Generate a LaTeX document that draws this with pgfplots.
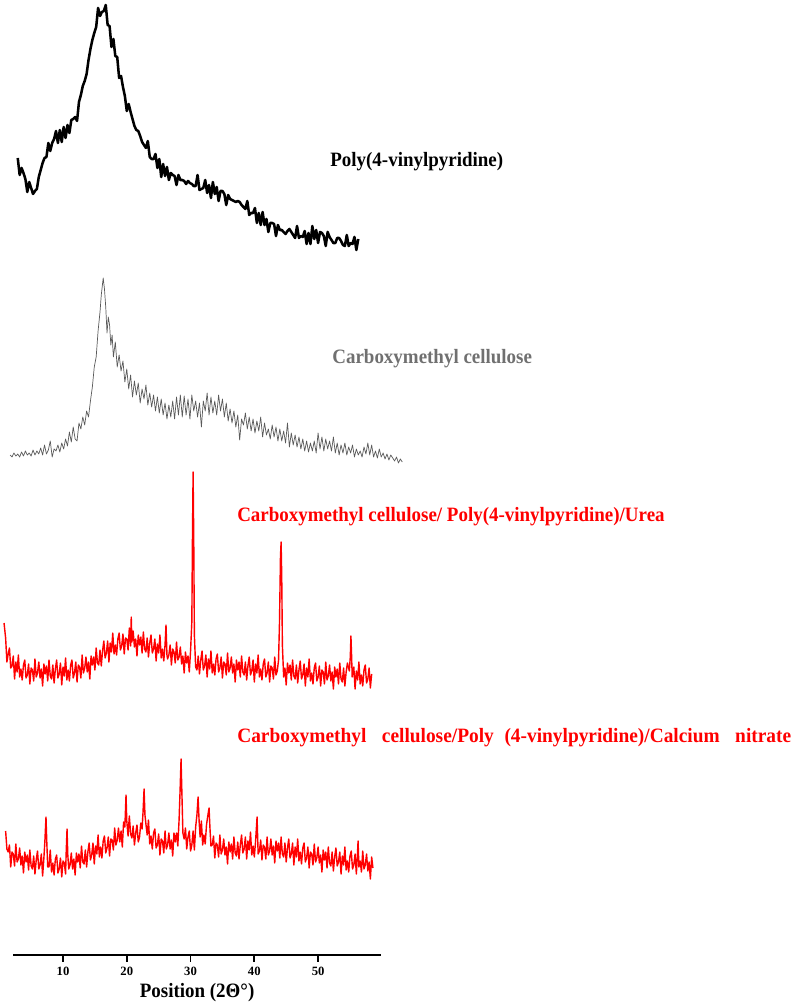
\documentclass[border=0pt]{standalone}
\usepackage{pgfplots}
\pgfplotsset{compat=1.18}
\usepackage{fontspec}
\setmainfont{Liberation Serif}
\definecolor{cmcgray}{RGB}{90,90,90}
\definecolor{lblgray}{RGB}{112,112,112}
\definecolor{xrdred}{RGB}{255,0,0}
\begin{document}
\begin{tikzpicture}
\begin{axis}[
  x=0.159375cm, y=0.025cm,
  xmin=2.16, xmax=59.9, ymin=52, ymax=1007,
  axis x line=bottom, axis y line=none,
  x axis line style={-, line width=1.5pt},
  xtick={10,20,30,40,50},
  tick align=outside,
  major tick length=0.17cm,
  xtick style={line width=1.2pt, black},
  ticklabel style={font=\fontsize{9}{10}\selectfont\bfseries},
  /pgf/number format/assume math mode=true,
  clip=false,
]
% bounding box of the whole figure
\path (axis cs:0.1176,0) rectangle (axis cs:125.137,1007);

% Poly(4-vinylpyridine)
\addplot[black, line width=1.8pt, line join=round] coordinates {
(2.9,849) (3.2,832) (3.5,839) (3.8,834) (4.1,828) (4.4,815) (4.7,825) (5.0,819) (5.3,813) (5.6,816)
(5.9,818) (6.2,830) (6.5,837) (6.8,844) (7.1,849) (7.4,850) (7.7,864) (8.0,856) (8.3,864) (8.6,868)
(8.9,876) (9.2,864) (9.5,877) (9.8,865) (10.1,880) (10.4,869) (10.7,882) (11.0,874) (11.3,887) (11.6,888)
(11.9,890) (12.2,886) (12.5,905) (12.8,912) (13.1,921) (13.4,926) (13.7,933) (14.0,947) (14.3,958) (14.6,967)
(14.9,974) (15.2,980) (15.5,999) (15.8,991) (16.1,995) (16.4,996) (16.7,1002) (17.0,982) (17.3,981) (17.6,960)
(17.9,968) (18.2,951) (18.5,950) (18.8,929) (19.1,931) (19.4,920) (19.7,911) (20.0,896) (20.3,903) (20.6,895)
(20.9,888) (21.2,881) (21.5,877) (21.8,876) (22.1,871) (22.4,865) (22.7,862) (23.0,859) (23.3,866) (23.6,850)
(23.9,848) (24.2,848) (24.5,853) (24.8,839) (25.1,848) (25.4,830) (25.7,843) (26.0,831) (26.3,840) (26.6,827)
(26.9,834) (27.2,832) (27.5,831) (27.8,822) (28.1,832) (28.4,827) (28.7,827) (29.0,826) (29.3,823) (29.6,826)
(29.9,824) (30.2,823) (30.5,821) (30.8,821) (31.1,832) (31.4,817) (31.7,818) (32.0,819) (32.3,827) (32.6,814)
(32.9,822) (33.2,809) (33.5,825) (33.8,813) (34.1,820) (34.4,806) (34.7,816) (35.0,816) (35.3,813) (35.6,802)
(35.9,812) (36.2,808) (36.5,807) (36.8,806) (37.1,805) (37.4,806) (37.7,805) (38.0,802) (38.3,800) (38.6,798)
(38.9,806) (39.2,792) (39.5,794) (39.8,794) (40.1,799) (40.4,784) (40.7,794) (41.0,782) (41.3,795) (41.6,782)
(41.9,788) (42.2,775) (42.5,784) (42.8,784) (43.1,783) (43.4,771) (43.7,782) (44.0,777) (44.3,777) (44.6,775)
(44.9,773) (45.2,776) (45.5,778) (45.8,775) (46.1,772) (46.4,769) (46.7,781) (47.0,769) (47.3,771) (47.6,770)
(47.9,776) (48.2,763) (48.5,774) (48.8,763) (49.1,781) (49.4,768) (49.7,777) (50.0,764) (50.3,775) (50.6,774)
(50.9,771) (51.2,761) (51.5,775) (51.8,770) (52.1,767) (52.4,764) (52.7,764) (53.0,769) (53.3,769) (53.6,766)
(53.9,762) (54.2,761) (54.5,772) (54.8,761) (55.1,764) (55.4,763) (55.7,770) (56.0,757) (56.3,768)
};

% Carboxymethyl cellulose
\addplot[cmcgray, line width=0.5pt, line join=round] coordinates {
(1.7,552) (2.0,550) (2.3,554) (2.6,551) (2.9,553) (3.2,550) (3.5,555) (3.8,551) (4.1,556) (4.4,552)
(4.7,554) (5.0,551) (5.3,557) (5.6,552) (5.9,556) (6.2,553) (6.5,559) (6.8,552) (7.1,562) (7.4,553)
(7.7,557) (8.0,566) (8.3,550) (8.6,558) (8.9,556) (9.2,562) (9.5,555) (9.8,564) (10.1,558) (10.4,568)
(10.7,561) (11.0,575) (11.3,565) (11.6,580) (11.9,568) (12.2,566) (12.5,584) (12.8,578) (13.1,590) (13.4,582)
(13.7,596) (14.0,590) (14.3,606) (14.6,620) (14.9,640) (15.2,650) (15.5,676) (15.8,695) (16.0,712) (16.3,729)
(16.5,718) (16.7,700) (16.9,674) (17.1,690) (17.3,682) (17.5,662) (17.7,672) (17.9,650) (18.2,665) (18.5,640)
(18.8,652) (19.1,636) (19.4,646) (19.7,625) (20.0,638) (20.3,618) (20.6,632) (20.9,610) (21.2,626) (21.5,612)
(21.8,624) (22.1,604) (22.4,618) (22.7,608) (23.0,622) (23.3,602) (23.6,614) (23.9,600) (24.2,612) (24.5,596)
(24.8,610) (25.1,594) (25.4,608) (25.7,592) (26.0,604) (26.3,588) (26.6,602) (26.9,590) (27.2,606) (27.5,588)
(27.8,610) (28.1,592) (28.4,612) (28.7,590) (29.0,611) (29.3,592) (29.6,608) (29.9,588) (30.2,612) (30.5,596)
(30.8,606) (31.1,590) (31.4,604) (31.7,580) (32.0,606) (32.3,596) (32.6,614) (32.9,592) (33.2,610) (33.5,594)
(33.8,606) (34.1,592) (34.4,612) (34.7,596) (35.0,608) (35.3,590) (35.6,604) (35.9,586) (36.2,598) (36.5,584)
(36.8,596) (37.1,580) (37.4,592) (37.7,567) (38.0,588) (38.3,582) (38.6,594) (38.9,578) (39.2,590) (39.5,576)
(39.8,588) (40.1,574) (40.4,586) (40.7,576) (41.0,590) (41.3,570) (41.6,584) (41.9,572) (42.2,578) (42.5,568)
(42.8,582) (43.1,570) (43.4,580) (43.7,566) (44.0,578) (44.3,566) (44.6,576) (44.9,564) (45.2,584) (45.5,560)
(45.8,574) (46.1,562) (46.4,572) (46.7,560) (47.0,570) (47.3,558) (47.6,568) (47.9,556) (48.2,566) (48.5,555)
(48.8,564) (49.1,556) (49.4,566) (49.7,554) (50.0,574) (50.3,558) (50.6,570) (50.9,556) (51.2,568) (51.5,558)
(51.8,566) (52.1,556) (52.4,570) (52.7,554) (53.0,564) (53.3,552) (53.6,562) (53.9,554) (54.2,564) (54.5,552)
(54.8,560) (55.1,554) (55.4,562) (55.7,550) (56.0,558) (56.3,552) (56.6,556) (56.9,550) (57.2,560) (57.5,553)
(57.8,564) (58.1,552) (58.4,562) (58.7,550) (59.0,556) (59.3,549) (59.6,558) (59.9,550) (60.2,554) (60.5,548)
(60.8,553) (61.1,547) (61.4,552) (61.7,549) (62.0,546) (62.3,550) (62.6,544) (62.9,548) (63.2,545)
};

% CMC / P4VP / Urea
\addplot[xrdred, line width=1.0pt, line join=round] coordinates {
(0.75,384) (1.0,369) (1.2,345) (1.4,353) (1.6,359) (1.8,339) (2.0,341) (2.2,351) (2.4,328) (2.6,345)
(2.8,335) (3.0,352) (3.2,330) (3.4,338) (3.6,327) (3.8,342) (4.0,347) (4.2,329) (4.4,332) (4.6,343)
(4.8,323) (5.0,339) (5.2,337) (5.4,326) (5.6,348) (5.8,330) (6.0,334) (6.2,345) (6.4,329) (6.6,338)
(6.8,321) (7.0,343) (7.2,333) (7.4,341) (7.6,326) (7.8,347) (8.0,331) (8.2,328) (8.4,342) (8.6,324)
(8.8,338) (9.0,347) (9.2,329) (9.4,333) (9.6,344) (9.8,322) (10.0,340) (10.2,331) (10.4,349) (10.6,327)
(10.8,337) (11.0,326) (11.2,342) (11.4,347) (11.6,329) (11.8,334) (12.0,345) (12.2,325) (12.4,342) (12.6,340)
(12.8,329) (13.0,352) (13.2,334) (13.4,339) (13.6,350) (13.8,335) (14.0,345) (14.2,328) (14.4,351) (14.6,342)
(14.8,350) (15.0,337) (15.2,359) (15.4,344) (15.6,342) (15.8,357) (16.0,341) (16.2,356) (16.4,366) (16.6,349)
(16.8,354) (17.0,366) (17.2,345) (17.4,364) (17.6,355) (17.8,374) (18.0,353) (18.2,362) (18.4,352) (18.6,368)
(18.8,374) (19.0,357) (19.2,361) (19.4,373) (19.6,353) (19.8,369) (20.0,368) (20.2,357) (20.4,379) (20.6,361)
(20.7,390) (20.8,365) (21.0,376) (21.2,360) (21.4,368) (21.6,351) (21.8,372) (22.0,362) (22.2,370) (22.4,354)
(22.6,375) (22.8,358) (23.0,355) (23.2,369) (23.4,350) (23.6,364) (23.8,372) (24.0,354) (24.2,358) (24.4,368)
(24.6,346) (24.8,363) (25.0,354) (25.2,372) (25.4,349) (25.6,358) (25.8,346) (26.0,362) (26.15,382) (26.3,352)
(26.4,348) (26.6,352) (26.8,362) (27.0,342) (27.2,358) (27.4,355) (27.6,344) (27.8,365) (28.0,347) (28.2,350)
(28.4,360) (28.6,343) (28.8,351) (29.0,334) (29.2,355) (29.4,344) (29.6,351) (29.8,335) (30.0,356) (30.2,385)
(30.3,470) (30.4,535) (30.5,468) (30.6,372) (30.8,340) (31.0,337) (31.2,351) (31.4,333) (31.6,347) (31.8,356)
(32.0,337) (32.2,341) (32.4,352) (32.6,330) (32.8,348) (33.0,338) (33.2,356) (33.4,334) (33.6,343) (33.8,332)
(34.0,348) (34.2,353) (34.4,335) (34.6,339) (34.8,350) (35.0,329) (35.2,345) (35.4,343) (35.6,332) (35.8,354)
(36.0,335) (36.2,339) (36.4,350) (36.6,334) (36.8,343) (37.0,325) (37.2,347) (37.4,337) (37.6,345) (37.8,330)
(38.0,351) (38.2,335) (38.4,332) (38.6,345) (38.8,327) (39.0,341) (39.2,350) (39.4,332) (39.6,336) (39.8,347)
(40.0,325) (40.2,343) (40.4,334) (40.6,352) (40.8,330) (41.0,338) (41.2,327) (41.4,343) (41.6,348) (41.8,330)
(42.0,334) (42.2,345) (42.4,325) (42.6,341) (42.8,339) (43.0,328) (43.2,350) (43.4,332) (43.6,336) (43.8,347)
(43.95,385) (44.1,450) (44.2,465) (44.3,430) (44.4,362) (44.6,330) (44.8,339) (45.0,322) (45.2,344) (45.4,334)
(45.6,342) (45.8,327) (46.0,347) (46.2,331) (46.4,328) (46.6,342) (46.8,324) (47.0,337) (47.2,346) (47.4,328)
(47.6,332) (47.8,343) (48.0,321) (48.2,339) (48.4,330) (48.6,348) (48.8,326) (49.0,334) (49.2,323) (49.4,339)
(49.6,344) (49.8,326) (50.0,330) (50.2,341) (50.4,321) (50.6,337) (50.8,335) (51.0,323) (51.2,345) (51.4,327)
(51.6,331) (51.8,342) (52.0,326) (52.2,335) (52.4,318) (52.6,340) (52.8,330) (53.0,338) (53.2,323) (53.4,344)
(53.6,328) (53.8,325) (54.0,339) (54.2,321) (54.4,335) (54.6,344) (54.9,336) (55.05,350) (55.15,371) (55.25,352)
(55.35,330) (55.6,340) (55.8,318) (56.0,336) (56.2,327) (56.4,345) (56.6,323) (56.8,332) (57.0,321) (57.2,337)
(57.4,342) (57.6,324) (57.8,328) (58.0,339) (58.2,319) (58.4,333)
};

% CMC / P4VP / Calcium nitrate
\addplot[xrdred, line width=1.0pt, line join=round] coordinates {
(1.0,176) (1.2,158) (1.4,155) (1.6,162) (1.8,140) (2.0,155) (2.2,153) (2.4,141) (2.6,163) (2.8,145)
(3.0,148) (3.2,159) (3.4,142) (3.6,151) (3.8,134) (4.0,155) (4.2,145) (4.4,152) (4.6,137) (4.8,157)
(5.0,141) (5.2,138) (5.4,151) (5.6,133) (5.8,147) (6.0,156) (6.2,138) (6.4,142) (6.6,153) (6.8,131)
(7.0,149) (7.15,165) (7.33,190) (7.45,166) (7.6,140) (7.8,140) (8.0,157) (8.2,135) (8.4,144) (8.6,132)
(8.8,148) (9.0,152) (9.2,134) (9.4,138) (9.6,149) (9.8,130) (10.0,146) (10.2,144) (10.4,133) (10.5,155)
(10.63,178) (10.75,152) (10.9,138) (11.1,142) (11.3,154) (11.5,138) (11.7,148) (11.9,132) (12.1,154) (12.3,145)
(12.5,153) (12.7,139) (12.9,161) (13.1,145) (13.3,143) (13.5,157) (13.7,140) (13.9,155) (14.1,164) (14.3,147)
(14.5,152) (14.7,164) (14.9,143) (15.1,161) (15.3,153) (15.5,172) (15.7,150) (15.9,160) (16.1,149) (16.3,166)
(16.5,171) (16.7,154) (16.9,159) (17.1,170) (17.3,151) (17.5,168) (17.7,167) (17.9,157) (18.1,179) (18.3,162)
(18.5,167) (18.7,179) (18.9,165) (19.1,176) (19.3,160) (19.5,185) (19.7,180) (19.88,212) (20.0,186) (20.2,171)
(20.4,191) (20.6,173) (20.8,169) (21.0,181) (21.2,162) (21.4,174) (21.6,182) (21.8,165) (22.0,170) (22.2,184)
(22.4,178) (22.55,195) (22.71,218) (22.85,192) (23.0,183) (23.2,172) (23.4,187) (23.6,163) (23.8,171) (24.0,158)
(24.2,174) (24.4,178) (24.6,159) (24.8,162) (25.0,173) (25.2,152) (25.4,168) (25.6,166) (25.8,154) (26.0,176)
(26.2,158) (26.4,162) (26.6,174) (26.8,158) (27.0,167) (27.2,151) (27.4,174) (27.6,165) (27.8,174) (28.0,161)
(28.2,187) (28.35,215) (28.51,248) (28.65,212) (28.8,174) (29.0,168) (29.2,179) (29.4,158) (29.6,170) (29.8,176)
(30.0,156) (30.2,162) (30.4,176) (30.6,157) (30.8,180) (31.0,192) (31.18,210) (31.35,185) (31.5,170) (31.7,186)
(31.9,162) (32.1,172) (32.3,163) (32.5,182) (32.7,191) (32.9,199) (33.05,178) (33.2,161) (33.4,162) (33.6,171)
(33.8,149) (34.0,164) (34.2,162) (34.4,150) (34.6,172) (34.8,153) (35.0,157) (35.2,168) (35.4,152) (35.6,160)
(35.8,143) (36.0,165) (36.2,155) (36.4,163) (36.6,148) (36.8,170) (37.0,154) (37.2,151) (37.4,165) (37.6,148)
(37.8,162) (38.0,172) (38.2,154) (38.4,158) (38.6,170) (38.8,148) (39.0,166) (39.2,157) (39.4,175) (39.6,152)
(39.8,161) (40.0,150) (40.2,166) (40.43,190) (40.6,153) (40.8,156) (41.0,167) (41.2,147) (41.4,162) (41.6,160)
(41.8,148) (42.0,170) (42.2,152) (42.4,156) (42.6,168) (42.8,152) (43.0,161) (43.2,144) (43.4,166) (43.6,156)
(43.8,164) (44.0,149) (44.2,170) (44.4,153) (44.6,150) (44.8,164) (45.0,145) (45.2,159) (45.4,168) (45.6,149)
(45.8,153) (46.0,164) (46.2,142) (46.4,160) (46.6,150) (46.8,168) (47.0,146) (47.2,155) (47.4,143) (47.6,159)
(47.8,164) (48.0,145) (48.2,149) (48.4,160) (48.6,139) (48.8,155) (49.0,153) (49.2,142) (49.4,163) (49.6,145)
(49.8,149) (50.0,160) (50.2,144) (50.4,152) (50.6,135) (50.8,157) (51.0,147) (51.2,155) (51.4,139) (51.6,160)
(51.8,144) (52.0,141) (52.2,155) (52.4,136) (52.6,150) (52.8,159) (53.0,141) (53.2,145) (53.4,155) (53.6,133)
(53.8,151) (54.0,142) (54.2,160) (54.4,137) (54.6,146) (54.8,135) (55.0,151) (55.2,156) (55.4,138) (55.6,142)
(55.8,153) (56.0,133) (56.15,150) (56.27,166) (56.4,140) (56.6,146) (56.8,135) (57.0,156) (57.2,138) (57.4,142)
(57.6,153) (57.8,136) (58.0,145) (58.2,128) (58.4,150) (58.6,139)
};

% labels
\node[anchor=base west, inner sep=0pt, xscale=0.93, font=\fontsize{14.5}{17}\selectfont\bfseries, text=black] at (axis cs:51.88,840) {Poly(4-vinylpyridine)};
\node[anchor=base west, inner sep=0pt, xscale=0.93, font=\fontsize{14.5}{17}\selectfont\bfseries, text=lblgray] at (axis cs:52.2,643) {Carboxymethyl cellulose};
\node[anchor=base west, inner sep=0pt, xscale=0.93, font=\fontsize{14.5}{17}\selectfont\bfseries, text=xrdred] at (axis cs:37.29,485) {Carboxymethyl cellulose/ Poly(4-vinylpyridine)/Urea};
\node[anchor=base west, inner sep=0pt, xscale=0.95, font=\fontsize{14.5}{17}\selectfont\bfseries, text=xrdred] at (axis cs:37.29,264) {Carboxymethyl\hspace{0.8em}cellulose/Poly\hspace{0.55em}(4-vinylpyridine)/Calcium\hspace{0.8em}nitrate};
\node[anchor=base, inner sep=0pt, xscale=0.93, font=\fontsize{14.5}{17}\selectfont\bfseries] at (axis cs:31.02,10) {Position (2Θ°)};
\end{axis}
\end{tikzpicture}
\end{document}
